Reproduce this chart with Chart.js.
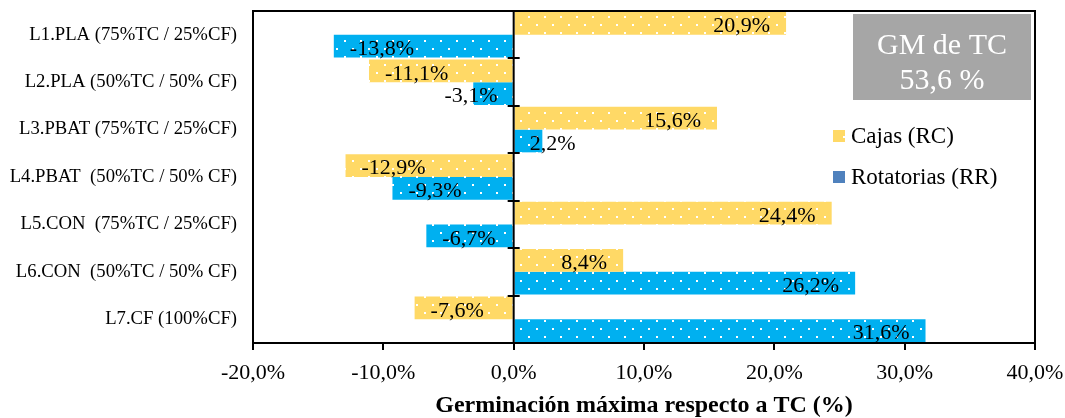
<!DOCTYPE html>
<html>
<head>
<meta charset="utf-8">
<script src="https://cdn.jsdelivr.net/npm/chart.js@4/dist/chart.umd.min.js"></script>
<style>
  html, body { margin: 0; padding: 0; background: #fff; }
  #wrap { width: 1065px; height: 418px; }
</style>
</head>
<body>
<div id="wrap"><canvas id="chart" width="1065" height="418"></canvas></div>
<script>
const categories = [
  'L1.PLA (75%TC / 25%CF)',
  'L2.PLA (50%TC / 50% CF)',
  'L3.PBAT (75%TC / 25%CF)',
  'L4.PBAT  (50%TC / 50% CF)',
  'L5.CON  (75%TC / 25%CF)',
  'L6.CON  (50%TC / 50% CF)',
  'L7.CF (100%CF)'
];
const cajasRC = [20.9, -11.1, 15.6, -12.9, 24.4, 8.4, -7.6];
const rotatoriasRR = [-13.8, -3.1, 2.2, -9.3, -6.7, 26.2, 31.6];
const xMin = -20, xMax = 40, xStep = 10;
const gmLines = ['GM de TC', '53,6 %'];

const SERIF = '"Liberation Serif", "Times New Roman", serif';
const YELLOW = '#ffd966';
const BLUE = '#00b0f0';
const BLUE_KEY = '#4f81bd';

const pct = (v) => v.toFixed(1).replace('.', ',') + '%';

// solid fill with a staggered grid of small white dots
const dotted = (base) => {
  const tile = document.createElement('canvas');
  tile.width = 16; tile.height = 16;
  const g = tile.getContext('2d');
  g.fillStyle = base;
  g.fillRect(0, 0, 16, 16);
  g.fillStyle = '#fff';
  g.fillRect(0, 0, 2, 2);
  g.fillRect(8, 8, 2, 2);
  return g.createPattern(tile, 'repeat');
};

// plot box, zero axis with category ticks, GM box and legend
const frame = {
  id: 'frame',
  afterDatasetsDraw(chart) {
    const { ctx, chartArea: a, scales: { x } } = chart;
    const x0 = x.getPixelForValue(0);
    ctx.save();
    ctx.strokeStyle = '#000';
    ctx.lineWidth = 2;
    ctx.beginPath();
    ctx.moveTo(a.left, a.bottom);
    ctx.lineTo(a.left, a.top);
    ctx.lineTo(a.right, a.top);
    ctx.lineTo(a.right, a.bottom);
    ctx.moveTo(x0, a.top);
    ctx.lineTo(x0, a.bottom);
    const step = (a.bottom - a.top) / categories.length;
    for (let k = 1; k < categories.length; k++) {
      const yy = Math.round(a.top + k * step);
      ctx.moveTo(x0 - 6, yy);
      ctx.lineTo(x0 + 6, yy);
    }
    ctx.stroke();

    // GM de TC box
    const bx = a.right - 182, by = a.top + 3, bw = 178, bh = 86;
    ctx.fillStyle = '#a6a6a6';
    ctx.fillRect(bx, by, bw, bh);
    ctx.fillStyle = '#fff';
    ctx.font = `30px ${SERIF}`;
    ctx.textAlign = 'center';
    ctx.textBaseline = 'middle';
    ctx.fillText(gmLines[0], bx + bw / 2, by + 32);
    ctx.fillText(gmLines[1], bx + bw / 2, by + 67);

    // legend
    ctx.font = `23px ${SERIF}`;
    ctx.textAlign = 'left';
    const keys = [
      { label: chart.data.datasets[0].label, color: YELLOW, dot: true },
      { label: chart.data.datasets[1].label, color: BLUE_KEY, dot: false }
    ];
    keys.forEach((k, i) => {
      const ky = a.top + 125 + i * 41;
      ctx.fillStyle = k.color;
      ctx.fillRect(a.right - 202, ky - 6, 12, 12);
      if (k.dot) {
        ctx.fillStyle = '#fff';
        ctx.fillRect(a.right - 192, ky, 2, 2);
      }
      ctx.fillStyle = '#000';
      ctx.fillText(k.label, a.right - 184, ky + 1);
    });
    ctx.restore();
  }
};

// value labels, inside the bar end or just off the axis when the bar is short
const barLabels = {
  id: 'barLabels',
  afterDatasetsDraw(chart) {
    const ctx = chart.ctx;
    const x0 = chart.scales.x.getPixelForValue(0);
    const pad = 16;
    ctx.save();
    ctx.font = `22px ${SERIF}`;
    ctx.fillStyle = '#000';
    ctx.textAlign = 'left';
    ctx.textBaseline = 'middle';
    chart.data.datasets.forEach((ds, i) => {
      chart.getDatasetMeta(i).data.forEach((bar, j) => {
        const v = ds.data[j];
        const text = pct(v);
        const w = ctx.measureText(text).width;
        const left = v >= 0
          ? Math.max(bar.x - pad - w, x0 + pad)
          : Math.min(bar.x + pad, x0 - pad - w);
        ctx.fillText(text, left, bar.y + 3);
      });
    });
    ctx.restore();
  }
};

new Chart(document.getElementById('chart'), {
  type: 'bar',
  data: {
    labels: categories,
    datasets: [
      { label: 'Cajas (RC)', data: cajasRC, backgroundColor: dotted(YELLOW) },
      { label: 'Rotatorias (RR)', data: rotatoriasRR, backgroundColor: dotted(BLUE) }
    ]
  },
  options: {
    indexAxis: 'y',
    responsive: false,
    animation: false,
    categoryPercentage: 0.96,
    barPercentage: 1,
    layout: { padding: { top: 11, right: 30, left: 0, bottom: 0 } },
    plugins: {
      legend: { display: false },
      tooltip: { enabled: false }
    },
    scales: {
      x: {
        min: xMin,
        max: xMax,
        afterFit: (s) => {
          s.height = 75;
          s.paddingLeft = 0;
          s.paddingRight = 0;
        },
        ticks: {
          stepSize: xStep,
          callback: (v) => pct(v),
          color: '#000',
          font: { family: SERIF, size: 22 },
          padding: 10
        },
        grid: {
          drawOnChartArea: false,
          drawTicks: true,
          tickLength: 7,
          color: '#000',
          lineWidth: 2
        },
        border: { color: '#000', width: 2 },
        title: {
          display: true,
          text: 'Germinación máxima respecto a TC (%)',
          color: '#000',
          font: { family: SERIF, size: 24, weight: 'bold', lineHeight: 1 },
          padding: { top: 0, bottom: 0 }
        }
      },
      y: {
        afterFit: (s) => {
          s.width = 253;
          s.paddingTop = 0;
          s.paddingBottom = 0;
        },
        ticks: {
          color: '#000',
          font: { family: SERIF, size: 18.7 },
          padding: 16
        },
        grid: { display: false, drawTicks: false },
        border: { display: false }
      }
    }
  },
  plugins: [frame, barLabels]
});
</script>
</body>
</html>
